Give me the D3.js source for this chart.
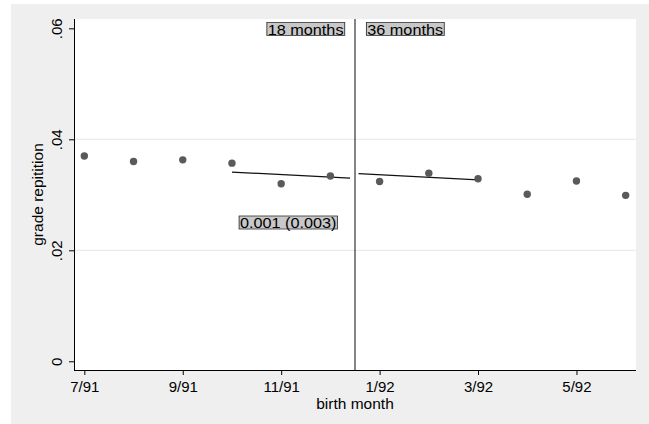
<!DOCTYPE html>
<html>
<head>
<meta charset="utf-8">
<script src="https://cdn.jsdelivr.net/npm/d3@7"></script>
<style>
  html, body { margin: 0; padding: 0; background: #ffffff; }
  svg { display: block; font-family: "Liberation Sans", Arial, sans-serif; }
</style>
</head>
<body>
<svg id="chart" width="649" height="424"></svg>
<script>
// Birth months (index 0 = July 1991) and mean grade repetition
const months = ["7/91","8/91","9/91","10/91","11/91","12/91","1/92","2/92","3/92","4/92","5/92","6/92"];
const repetition = [0.0370, 0.0360, 0.0363, 0.0357, 0.0320, 0.0334, 0.0324, 0.0339, 0.0329, 0.0301, 0.0325, 0.0299];

// Local linear fits on each side of the cutoff: [month index, value]
const fitLeft = [[3.0, 0.0341], [5.4, 0.0330]];
const fitRight = [[5.57, 0.0338], [8.0, 0.0327]];

const cutoff = 5.5;
const xTickIdx = [0, 2, 4, 6, 8, 10];
const yTicks = [0, 0.02, 0.04, 0.06];
const yTickLabels = ["0", ".02", ".04", ".06"];
const gridValues = [0.02, 0.04];

const svg = d3.select("#chart");
const W = 649, H = 424;
const plot = { left: 74, top: 19, right: 636, bottom: 370 };
const FS = 15;

// Outer graph region
svg.append("rect").attr("x", 0).attr("y", 0).attr("width", W).attr("height", H).attr("fill", "#ffffff");
svg.append("rect").attr("x", 11).attr("y", 4).attr("width", W - 11).attr("height", H - 4).attr("fill", "#efefef");
svg.append("rect").attr("x", plot.left).attr("y", plot.top)
  .attr("width", plot.right - plot.left).attr("height", plot.bottom - plot.top).attr("fill", "#ffffff");

const x = d3.scaleLinear().domain([-0.21, 11.21]).range([plot.left, plot.right]);
const y = d3.scaleLinear().domain([-0.00157, 0.06168]).range([plot.bottom, plot.top]);

// Gridlines
svg.append("g").selectAll("line").data(gridValues).join("line")
  .attr("x1", plot.left).attr("x2", plot.right)
  .attr("y1", d => y(d)).attr("y2", d => y(d))
  .attr("stroke", "#e6e6e6").attr("stroke-width", 1);

// Y axis
const yAxis = d3.axisLeft(y).tickValues(yTicks).tickSize(5).tickPadding(4)
  .tickFormat((d, i) => yTickLabels[i]);
const gy = svg.append("g").attr("transform", `translate(${plot.left},0)`).call(yAxis);
gy.select(".domain").attr("d", `M0.5,${plot.top}V${plot.bottom}`).attr("stroke", "#000");
gy.selectAll(".tick line").attr("stroke", "#000");
gy.selectAll(".tick text")
  .attr("font-size", FS).attr("fill", "#000")
  .attr("text-anchor", "middle")
  .attr("transform", "rotate(-90)")
  .attr("x", 0).attr("y", -12.3).attr("dy", 0);

// X axis
const xAxis = d3.axisBottom(x).tickValues(xTickIdx).tickSize(5).tickPadding(4)
  .tickFormat(d => months[d]);
const gx = svg.append("g").attr("transform", `translate(0,${plot.bottom})`).call(xAxis);
gx.select(".domain").attr("d", `M${plot.left},0.5H${plot.right}`).attr("stroke", "#000");
gx.selectAll(".tick line").attr("stroke", "#000");
gx.selectAll(".tick text").attr("font-size", FS).attr("fill", "#000").attr("y", 22.3).attr("dy", 0);

// Axis titles
svg.append("text").attr("x", (x(0) + x(11)) / 2).attr("y", 409.3)
  .attr("text-anchor", "middle").attr("font-size", 15.5).attr("fill", "#000").text("birth month");
svg.append("text").attr("transform", `translate(43,${(plot.top + plot.bottom) / 2}) rotate(-90)`)
  .attr("text-anchor", "middle").attr("font-size", 15.5).attr("fill", "#000").text("grade repitition");

// Cutoff line
svg.append("line").attr("x1", x(cutoff)).attr("x2", x(cutoff))
  .attr("y1", plot.top).attr("y2", plot.bottom)
  .attr("stroke", "#333").attr("stroke-width", 1.2);

// Fitted lines
const line = d3.line().x(d => x(d[0])).y(d => y(d[1]));
[fitLeft, fitRight].forEach(seg => {
  svg.append("path").attr("d", line(seg)).attr("fill", "none")
    .attr("stroke", "#111").attr("stroke-width", 1.3);
});

// Monthly means
svg.append("g").selectAll("circle").data(repetition).join("circle")
  .attr("cx", (d, i) => x(i)).attr("cy", d => y(d)).attr("r", 3.7)
  .attr("fill", "#5a5a5a");

// Boxed text annotations (slightly widened glyphs)
function boxed(label, xPos, baseline, anchor) {
  const g = svg.append("g").attr("transform", `translate(${xPos},${baseline}) scale(1.12,1)`);
  const t = g.append("text").attr("x", 0).attr("y", 0)
    .attr("text-anchor", anchor).attr("font-size", 14.5).attr("fill", "#000").text(label);
  const b = t.node().getBBox();
  g.insert("rect", "text").attr("x", b.x - 0.8).attr("y", -12)
    .attr("width", b.width + 1.6).attr("height", 13)
    .attr("fill", "#c8c8c8").attr("stroke", "#333").attr("stroke-width", 0.8);
}
boxed("18 months", x(cutoff) - 11.5, 34.5, "end");
boxed("36 months", x(cutoff) + 12.3, 34.5, "start");
boxed("0.001 (0.003)", x(cutoff) - 18.5, 228, "end");
</script>
</body>
</html>
